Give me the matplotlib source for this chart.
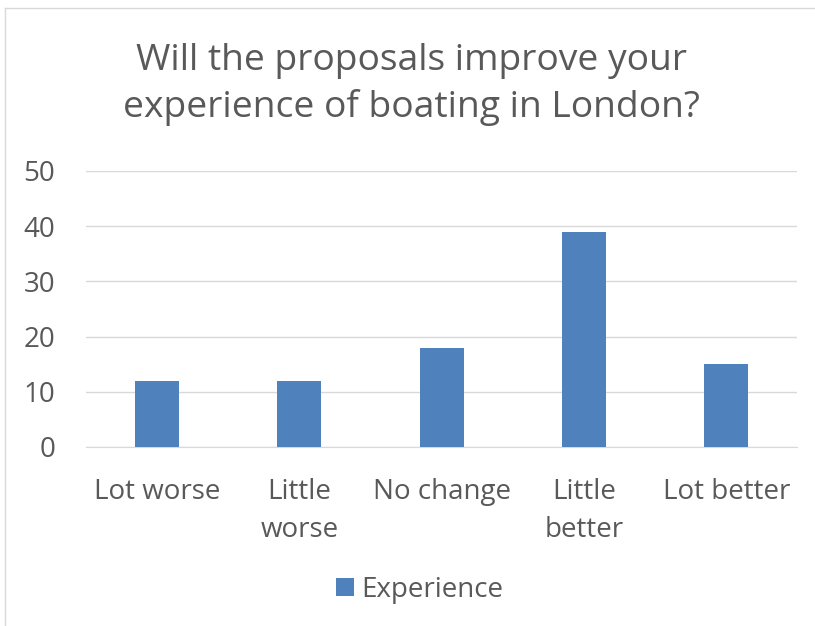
import matplotlib.pyplot as plt

categories = ['Lot worse', 'Little\nworse', 'No change', 'Little\nbetter', 'Lot better']
experience = [12, 12, 18, 39, 15]
yticks = [0, 10, 20, 30, 40, 50]

plt.rcParams['font.family'] = ['Open Sans', 'DejaVu Sans']
txt = '#595959'
bar_col = '#4f81bd'

fig = plt.figure(figsize=(8.15, 6.26), dpi=100)
ax = fig.add_axes([0.1055, 0.286, 0.873, 0.441])

# chart frame (only top and left visible in the original)
fig.add_artist(plt.Line2D([0.006, 0.006], [0, 0.987], transform=fig.transFigure, color='#d9d9d9', lw=1))
fig.add_artist(plt.Line2D([0.006, 1.0], [0.987, 0.987], transform=fig.transFigure, color='#d9d9d9', lw=1))

x = range(len(categories))
ax.bar(x, experience, width=0.31, color=bar_col, label='Experience', zorder=3)

ax.set_xlim(-0.5, len(categories) - 0.5)
ax.set_ylim(0, 50)
ax.set_yticks(yticks)
ax.set_yticklabels([str(v) for v in yticks], fontsize=20, color=txt)
ax.set_xticks(list(x))
ax.set_xticklabels(categories, fontsize=20, color=txt, linespacing=1.5)
ax.tick_params(axis='both', length=0)
ax.tick_params(axis='x', pad=22)
ax.tick_params(axis='y', pad=22)
ax.grid(axis='y', color='#d9d9d9', lw=1, zorder=0)
for s in ['top', 'right', 'left']:
    ax.spines[s].set_visible(False)
ax.spines['bottom'].set_color('#d9d9d9')

fig.text(0.505, 0.865, 'Will the proposals improve your\nexperience of boating in London?',
         ha='center', va='center', fontsize=26.8, color=txt, linespacing=1.38)

leg = fig.legend(loc='center', bbox_to_anchor=(0.515, 0.058), frameon=False,
                 fontsize=20, handlelength=0.65, handleheight=0.65, handletextpad=0.25)
for t in leg.get_texts():
    t.set_color(txt)

fig.savefig('out.png', dpi=100)
